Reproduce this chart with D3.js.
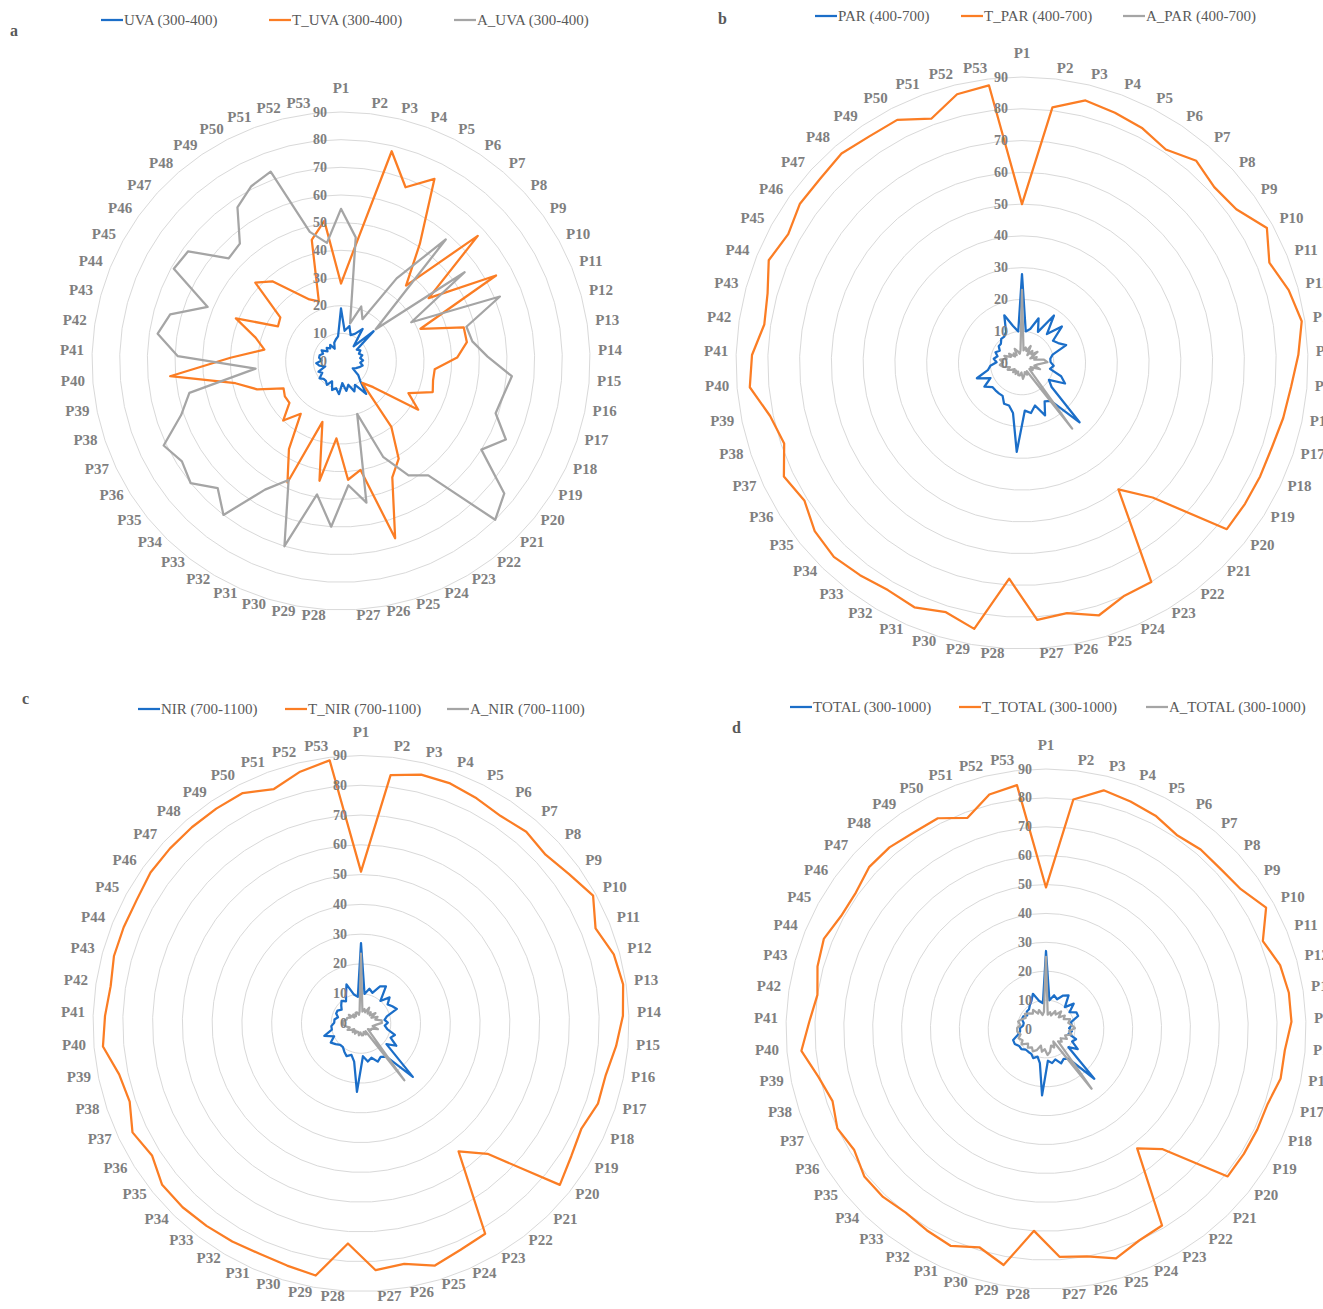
<!DOCTYPE html>
<html>
<head>
<meta charset="utf-8">
<script src="https://cdn.jsdelivr.net/npm/d3@7"></script>
<style>
  body { margin: 0; background: #ffffff; }
  svg { display: block; font-family: "Liberation Serif", "DejaVu Serif", serif; }
</style>
</head>
<body>
<svg id="chart" width="1323" height="1309"></svg>
<script>
// ---- data ----
const categories = ["P1","P2","P3","P4","P5","P6","P7","P8","P9","P10","P11","P12","P13","P14","P15","P16","P17","P18","P19","P20","P21","P22","P23","P24","P25","P26","P27","P28","P29","P30","P31","P32","P33","P34","P35","P36","P37","P38","P39","P40","P41","P42","P43","P44","P45","P46","P47","P48","P49","P50","P51","P52","P53"];
const ringTicks = [0, 10, 20, 30, 40, 50, 60, 70, 80, 90];

const uva    = [19,11,13,10,11,14,7,16,7,8, 7,8,7,8,7,8,7,6,5,8, 10,15,10,12,9,11,8,12,10,11, 8,10,9,9,10,8,9,6,8,9, 7,8,8,7,8,6,7,6,7,5, 7,8,9];
const tUva   = [28,41,78,67,74,51,36,67,39,64, 31,46,46,42,34,34,35,27,33,15, 11,30,41,46,67,40,43,28,44,23, 48,37,24,30,24,24,23,32,39,62, 40,28,32,41,26,27,42,38,30,25, 23,45,51];
const aUva   = [55,45,14,21,17,36,58,17,55,29, 62,47,48,53,62,60,59,66,60,76, 80,52,48,38,20,52,45,60,49,70, 47,54,70,64,70,68,71,61,56,31, 59,67,64,52,69,68,55,56,67,71, 73,48,43];

const par    = [28,10,11,15,11,18,12,17,12,13, 15,10,9,9,10,9,13,15,10,12, 26,15,14,18,14,16,15,28,16,14, 14,12,12,12,12,14,11,15,11,10, 8,9,8,9,8,9,9,10,10,11, 16,12,10];
const tPar   = [50,81,85,84,83,81,84,82,83,88, 84,87,89,87,85,84,83,83,83,83, 59,50,80,80,83,80,81,68,85,82, 84,83,84,85,84,81,83,79,81,86, 85,82,83,86,84,86,86,87,86,86, 82,87,88];
const aPar   = [23,4,5,4,6,3,5,4,6,3, 5,4,7,8,5,4,6,3,4,3, 5,26,3,4,3,4,5,3,4,4, 3,4,3,4,3,4,5,4,6,7, 6,7,5,6,4,5,3,4,3,5, 4,3,4];

const nir    = [27,10,12,11,14,15,10,13,11,12, 13,9,8,9,8,9,12,11,14,11, 25,14,13,14,12,13,11,23,13,11, 12,11,10,10,11,12,10,13,10,10, 9,9,8,9,9,8,9,10,9,11, 14,10,9];
const tNir   = [51,84,86,86,85,84,85,84,86,89, 85,88,89,88,86,84,84,82,83.5,86, 61,54,82,83,85,82,83,74,86,85, 84.5,85,85.5,86,86,83,85,82,83,87, 86,85,86,86,86,87,87,87,87,87, 84,87,89];
const aNir   = [23.5,4,5,4,6,4,5,4,6,4, 6,5,7,7,5,4,6,4,4,3, 5,24,3,4,3,4,4,3,4,3, 3,4,3,4,3,4,5,4,5,6, 6,6,5,5,4,5,3,4,3,4, 4,3,4];

const total  = [27,10,12,11,13,14,10,13,10,12, 12,9,9,8,9,8,11,10,13,10, 24,13,12,13,11,12,11,23,12,10, 11,10,10,10,11,11,12,12,10,9, 9,8,8,9,9,8,9,9,10,11, 13,10,9];
const tTotal = [49,80,85,84,83,81,82,82,83,87, 81,84,85,85,83,83,81,81,81,81, 58,52,79,80,83,80,79,70,83,79, 82,81,80,81,81,78.5,80,78,80.5,85, 82,80,82,83,81,81,83,83,82,82, 78,83.5,85];
const aTotal = [25,5,6,5,7,6,8,6,8,7, 9,8,9,10,8,9,7,8,6,7, 6,26,5,7,6,8,9,7,8,6, 8,9,8,9,8,10,9,10,9,10, 10,9,10,9,8,9,8,7,8,6, 7,5,6];

// ---- styling / layout ----
const colors = ["#1b6ec8", "#fb7d24", "#a5a5a5"];
const textGray = "#7f7f7f";
const legendGray = "#595959";

const panels = [
  { tag: "a", cx: 341, cy: 361, R: 249, title: [10, 30],
    series: [uva, tUva, aUva],
    names: ["UVA (300-400)", "T_UVA (300-400)", "A_UVA (300-400)"],
    legendY: 20, legendX: [101, 269, 454] },
  { tag: "b", cx: 1022, cy: 363, R: 286, title: [718, 18],
    series: [par, tPar, aPar],
    names: ["PAR (400-700)", "T_PAR (400-700)", "A_PAR (400-700)"],
    legendY: 16, legendX: [815, 961, 1123] },
  { tag: "c", cx: 361, cy: 1023.5, R: 268, title: [22, 698],
    series: [nir, tNir, aNir],
    names: ["NIR (700-1100)", "T_NIR (700-1100)", "A_NIR (700-1100)"],
    legendY: 709, legendX: [138, 285, 447] },
  { tag: "d", cx: 1046, cy: 1029, R: 260, title: [732, 727],
    series: [total, tTotal, aTotal],
    names: ["TOTAL (300-1000)", "T_TOTAL (300-1000)", "A_TOTAL (300-1000)"],
    legendY: 707, legendX: [790, 959, 1146] }
];

const svg = d3.select("#chart");
const n = categories.length;
const angle = d3.scaleLinear().domain([0, n]).range([0, 2 * Math.PI]);

panels.forEach(p => {
  const g = svg.append("g").attr("transform", `translate(${p.cx},${p.cy})`);
  const r = d3.scaleLinear().domain([0, 90]).range([0, p.R]);

  const radial = d3.lineRadial()
    .angle((d, i) => angle(i))
    .radius(d => r(d))
    .curve(d3.curveLinearClosed);

  // circular gridlines (53-sided, one vertex per category)
  g.append("g").selectAll("path")
    .data(ringTicks.filter(t => t > 0))
    .join("path")
    .attr("d", t => radial(categories.map(() => t)))
    .attr("fill", "none")
    .attr("stroke", "#d9d9d9")
    .attr("stroke-width", 1);

  // series
  g.append("g").selectAll("path")
    .data(p.series)
    .join("path")
    .attr("d", d => radial(d))
    .attr("fill", "none")
    .attr("stroke", (d, i) => colors[i])
    .attr("stroke-width", 2.25)
    .attr("stroke-linejoin", "round");

  // value labels along the vertical axis
  g.append("g").selectAll("text")
    .data(ringTicks)
    .join("text")
    .attr("x", -14)
    .attr("y", t => -r(t))
    .attr("text-anchor", "end")
    .attr("dominant-baseline", "central")
    .attr("font-size", 14)
    .attr("font-weight", "bold")
    .attr("fill", textGray)
    .text(t => t);

  // category labels around the rim
  const lr = p.R + 8;
  g.append("g").selectAll("text")
    .data(categories)
    .join("text")
    .each(function (c, i) {
      const a = angle(i);
      const s = Math.sin(a), co = Math.cos(a);
      const el = d3.select(this);
      if (Math.abs(s) < 1e-6) {
        el.attr("x", 0).attr("y", -lr - 16).attr("text-anchor", "middle");
      } else {
        el.attr("x", lr * s).attr("y", -lr * co - 3)
          .attr("text-anchor", s > 0 ? "start" : "end");
      }
    })
    .attr("dominant-baseline", "central")
    .attr("font-size", 15)
    .attr("font-weight", "bold")
    .attr("fill", textGray)
    .text(c => c);

  // panel letter
  svg.append("text")
    .attr("x", p.title[0]).attr("y", p.title[1])
    .attr("dominant-baseline", "central")
    .attr("font-size", 16)
    .attr("font-weight", "bold")
    .attr("fill", "#595959")
    .text(p.tag);

  // legend
  const lg = svg.append("g");
  p.names.forEach((name, i) => {
    const x0 = p.legendX[i];
    lg.append("line")
      .attr("x1", x0).attr("x2", x0 + 22)
      .attr("y1", p.legendY).attr("y2", p.legendY)
      .attr("stroke", colors[i]).attr("stroke-width", 2.25);
    lg.append("text")
      .attr("x", x0 + 23).attr("y", p.legendY)
      .attr("dominant-baseline", "central")
      .attr("font-size", 15)
      .attr("fill", legendGray)
      .text(name);
  });
});
</script>
</body>
</html>
